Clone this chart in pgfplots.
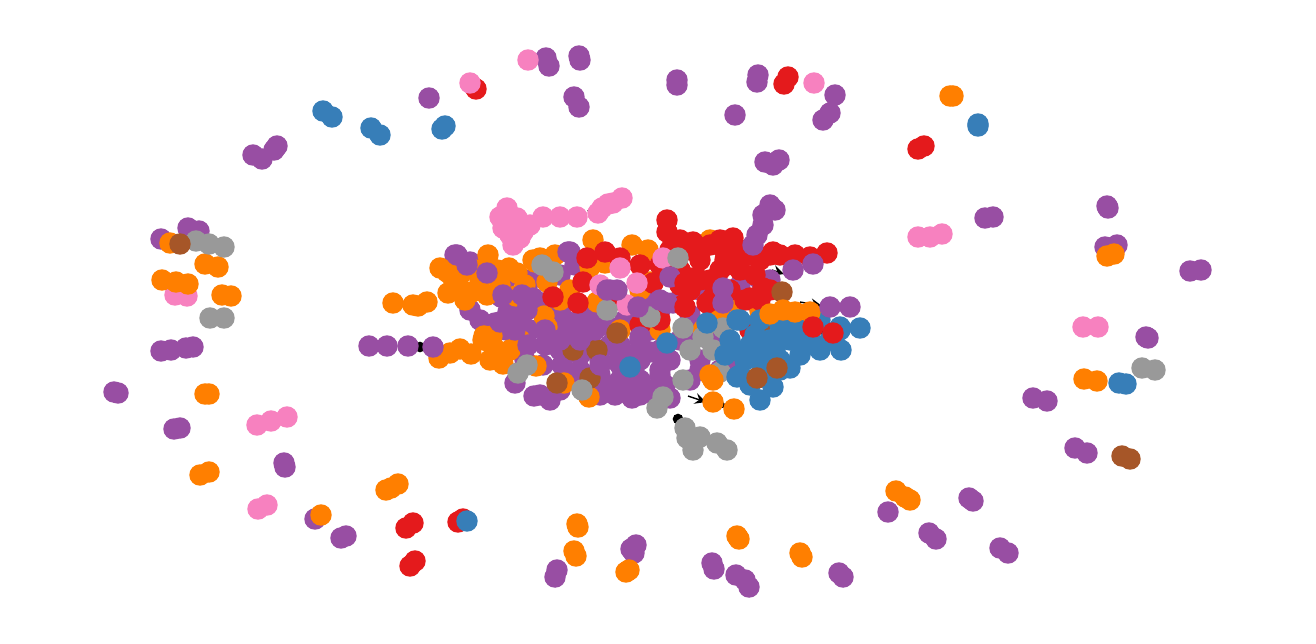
\documentclass[border=0pt]{standalone}
\usepackage{pgfplots}
\pgfplotsset{compat=1.18}
\definecolor{cpurple}{HTML}{984EA3}
\definecolor{cred}{HTML}{E41A1C}
\definecolor{cblue}{HTML}{377EB8}
\definecolor{corange}{HTML}{FF7F00}
\definecolor{cpink}{HTML}{F781BF}
\definecolor{cgray}{HTML}{999999}
\definecolor{cbrown}{HTML}{A65628}
\pgfplotsset{nd/.style={only marks, mark=*, mark size=2.85pt, mark options={draw=none}}}
\begin{document}
\begin{tikzpicture}
\path[use as bounding box] (0,0) rectangle (13.16cm,6.43cm);
\begin{axis}[at={(0,0)}, anchor=south west, width=13.16cm, height=6.43cm, scale only axis,
  xmin=0, xmax=1316, ymin=0, ymax=643, y dir=reverse, hide axis, clip=false]
% edges
\addplot[black, thin, -stealth] coordinates {(688,396) (706,402)};
\addplot[black, thin, -stealth] coordinates {(722,405) (728,407)};
\addplot[black, thin, -stealth] coordinates {(800,302) (822,306)};
\addplot[black, thin, -stealth] coordinates {(772,270) (784,274)};
\addplot[black, thin] coordinates {(588,210) (592,218)};
\addplot[black, only marks, mark=*, mark size=1.3pt] coordinates {(420,347) (678,419) (820,329)};
% purple base
\addplot[nd, color=cpurple] coordinates {
(455,255)(470,262)(462,268)(490,272)(505,280)(501,297)(518,296)(530,280)(570,252)(495,323)
(506,330)(520,325)(530,330)(545,345)(560,350)(575,345)(590,340)(600,325)(612,328)(625,320)
(650,300)(660,310)(680,300)(690,315)(640,340)(660,350)(640,360)(620,365)(600,360)(580,370)
(570,380)(560,390)(540,395)(550,400)(534,396)(583,390)(600,395)(615,395)(632,398)(650,390)
(665,385)(670,398)(690,380)(700,370)(720,370)(730,360)(710,340)(640,380)(660,370)(620,380)
(600,375)(580,355)(570,330)(550,330)(620,345)(700,290)(720,290)(740,285)(750,300)(760,280)
(770,280)(525,360)(515,383)(562,365)(600,305)(580,320)(560,310)(640,305)(610,290)(673,303)
(700,360)(730,345)(590,310)(565,320)(545,312)(535,300)(610,345)(630,355)(650,330)(680,340)
(695,330)(710,300)(560,275)(575,265)(520,350)(480,320)(470,310)(508,312)(523,310)(543,365)
(590,325)(655,395)(615,385)};
% orange
\addplot[nd, color=corange] coordinates {
(393,303)(413,305)(427,302)(418,306)(448,293)(447,272)(440,268)(453,278)(458,285)(488,255)
(497,270)(487,295)(509,268)(517,273)(535,262)(547,282)(516,296)(544,316)(547,327)(520,340)
(484,336)(493,346)(503,364)(536,366)(564,383)(589,397)(560,300)(593,240)(605,263)(632,245)
(648,250)(710,240)(590,267)(570,290)(597,302)(640,290)(620,330)(660,330)(703,330)(735,302)(715,314)
(760,311)(650,282)(439,358)(450,353)(460,349)(471,354)(483,340)(492,336)(472,292)(480,280)
(465,300)(475,270)(500,285)(530,300)(510,350)(490,360)(555,255)(540,258)(460,275)(700,252)
(722,318)(533,260)(525,285)};
% purple top-left
\addplot[nd, color=cpurple] coordinates {
(457,255)(467,265)(487,273)(503,295)(522,295)(533,298)(568,252)(500,322)(527,310)(545,330)
(515,330)(528,345)};
% red
\addplot[nd, color=cred] coordinates {
(667,220)(667,232)(680,240)(690,250)(700,260)(680,270)(710,245)(720,240)(733,238)(740,250)
(750,255)(760,260)(770,255)(780,255)(795,255)(810,257)(827,253)(720,270)(740,270)(700,280)
(690,290)(680,285)(660,265)(640,265)(620,258)(605,252)(587,258)(583,282)(615,300)(578,303)
(640,325)(660,320)(683,305)(707,303)(730,290)(745,300)(760,300)(770,290)(653,283)(690,278)
(750,330)(725,260)(755,275)(723,248)(773,252)(693,242)(553,297)(710,280)(670,250)(727,265)
(763,288)(713,297)};
% pink
\addplot[nd, color=cpink] coordinates {
(507,208)(500,217)(517,218)(503,228)(523,232)(513,245)(520,238)(530,225)(510,235)(543,217)
(560,217)(577,217)(602,208)(613,203)(622,198)(608,204)(598,213)
(620,268)(663,258)(637,283)(600,285)(627,305)};
% brown
\addplot[nd, color=cbrown] coordinates {
(573,350)(597,350)(590,378)(557,383)(617,333)(757,378)(782,292)(777,368)(760,330)};
% gray
\addplot[nd, color=cgray] coordinates {
(542,265)(553,272)(607,310)(518,373)(527,365)(582,390)(657,408)(663,397)(683,328)(703,337)
(690,350)(713,350)(683,380)(720,372)(723,328)(678,258)(650,317)
(685,428)(687,438)(700,437)(693,450)(717,443)(727,450)};
% purple top center
\addplot[nd, color=cpurple] coordinates {
(638,307)(660,300)(607,290)(617,290)(670,277)(640,337)(650,352)(620,357)(600,365)(580,340)
(560,340)(630,382)(610,388)(660,375)(640,395)(670,360)(595,330)(723,288)(723,303)(667,303)};
% red over
\addplot[nd, color=cred] coordinates {(685,283)(685,307)};
% blue
\addplot[nd, color=cblue] coordinates {
(740,320)(760,320)(780,325)(800,330)(820,320)(840,330)(860,328)(841,350)(830,340)(810,340)
(790,340)(770,340)(750,345)(735,350)(745,360)(760,360)(780,360)(800,355)(820,350)(760,375)
(780,370)(790,368)(750,385)(770,380)(740,375)(730,340)(760,345)(800,345)(760,400)(630,367)
(667,343)(707,323)(737,320)(782,332)(815,345)(840,327)(737,377)(773,387)(755,335)(775,350)
(795,330)(725,355)};
% brown top
\addplot[nd, color=cbrown] coordinates {(757,378)(777,368)};
% orange top
\addplot[nd, color=corange] coordinates {
(783,310)(795,312)(810,312)(770,314)(713,402)(734,409)(710,375)(713,380)};
% red top
\addplot[nd, color=cred] coordinates {(813,327)(833,333)(750,298)};
% purple outer / chains
\addplot[nd, color=cpurple] coordinates {
(770,205)(775,210)(763,215)(763,225)(757,235)(753,245)(793,270)(813,264)(830,307)(850,307)
(369,346)(387,346)(408,346)(433,347)
(546,58)(549,66)(579,56)(580,60)(574,97)(579,107)(677,80)(677,85)(758,75)(757,82)
(835,95)(830,113)(823,120)(735,115)(429,98)(277,146)(274,150)(253,155)(262,159)
(765,162)(779,160)(773,165)(985,218)(993,217)(1107,206)(1108,208)(1105,247)(1117,245)
(1190,271)(1201,270)(1146,337)(1148,338)(1033,398)(1047,401)(1075,448)(1087,453)
(888,512)(969,498)(973,501)(929,533)(936,539)(1000,548)(1008,553)(839,573)(843,577)
(712,563)(714,569)(736,575)(745,580)(749,587)(631,549)(636,545)(634,553)(557,570)(555,577)
(315,519)(341,538)(346,536)(284,463)(285,467)(174,429)(180,428)(114,392)(118,393)
(161,351)(171,350)(186,348)(193,347)(161,239)(188,228)(199,231)};
% red outer
\addplot[nd, color=cred] coordinates {
(476,89)(788,77)(784,84)(918,149)(924,146)(458,522)(463,519)(406,528)(413,523)(410,566)(415,561)};
% pink outer
\addplot[nd, color=cpink] coordinates {
(528,60)(470,83)(814,83)(918,237)(930,237)(942,234)(1083,327)(1098,327)(258,509)(267,505)
(257,425)(271,421)(287,417)(175,295)(187,296)};
% blue outer
\addplot[nd, color=cblue] coordinates {
(323,111)(332,117)(371,128)(380,135)(442,129)(445,126)(978,124)(978,126)(1119,383)(1126,384)(467,521)};
% orange outer
\addplot[nd, color=corange] coordinates {
(950,96)(953,96)(1107,256)(1114,254)(1084,379)(1097,381)(896,491)(905,497)(910,500)
(800,553)(802,557)(737,536)(739,539)(626,572)(629,570)(577,524)(578,527)(574,551)(576,556)
(386,490)(391,488)(398,484)(321,515)(200,475)(209,472)(205,394)(209,394)(222,295)(231,296)
(162,280)(176,282)(188,284)(205,264)(218,267)(170,243)};
% gray outer
\addplot[nd, color=cgray] coordinates {
(1142,368)(1155,370)(210,318)(224,318)(196,241)(209,244)(224,247)};
% brown outer
\addplot[nd, color=cbrown] coordinates {(1122,456)(1130,459)(180,244)};
\end{axis}
\end{tikzpicture}
\end{document}
